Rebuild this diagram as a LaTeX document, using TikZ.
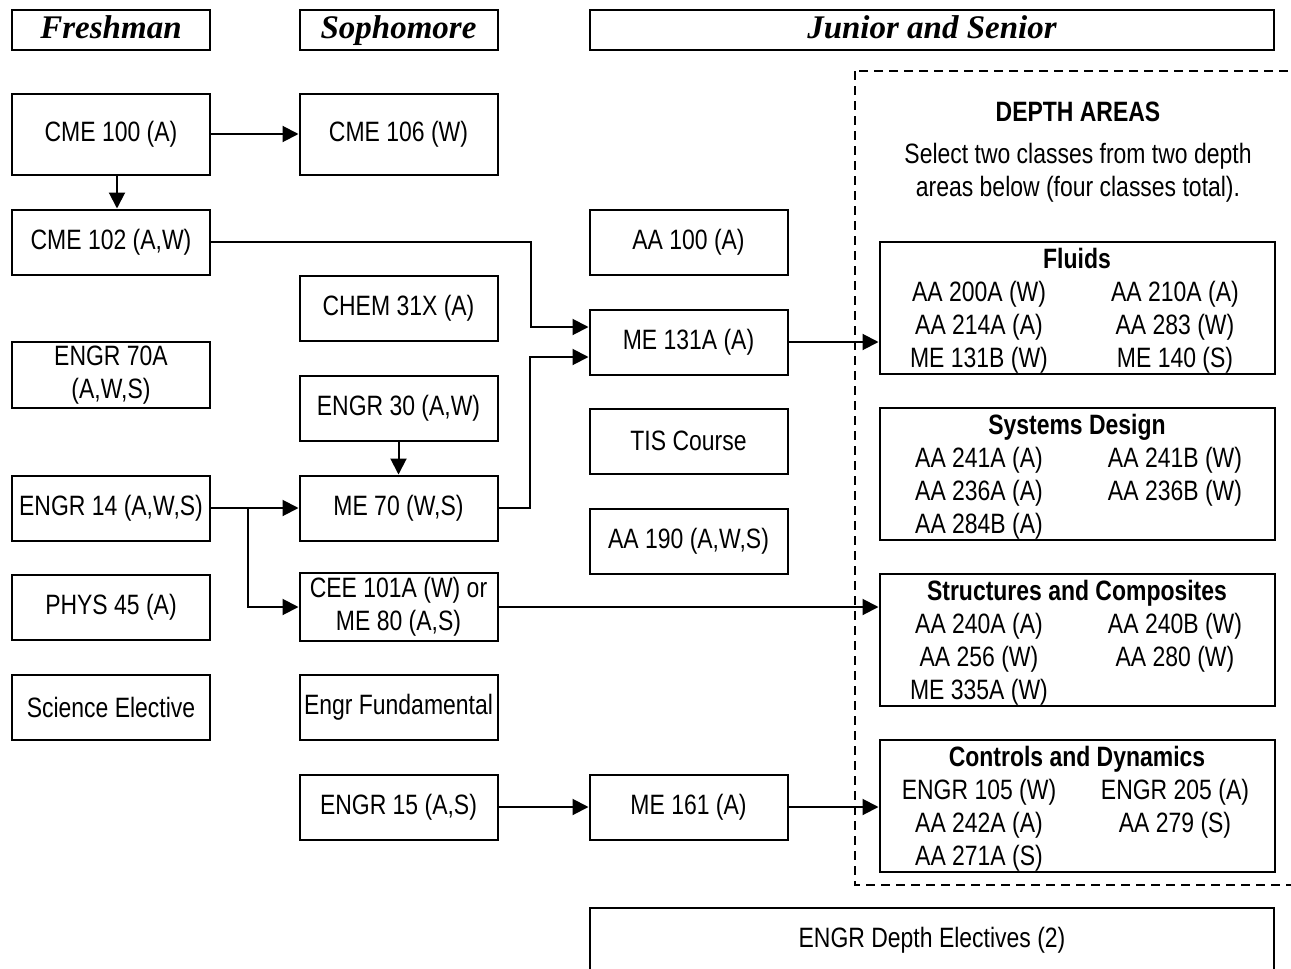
\documentclass[tikz,border=0pt]{standalone}
\usepackage{fontspec}
\setmainfont{Liberation Sans}[FakeStretch=0.82]
\newfontfamily\headfont{Liberation Serif}
\usepackage{array}
\usepackage{tikz}
\usetikzlibrary{arrows.meta}
\tikzstyle{line} = [draw, -{Triangle[length=8pt,width=8pt]}, line width=1pt]
\newcommand{\areatable}[2]{\begin{tabular}{@{}>{\centering}p{98pt}@{}>{\centering\arraybackslash}p{98pt}@{}}
\multicolumn{2}{c}{\textbf{#1}}\\ #2
\end{tabular}}

\begin{document}
\begin{tikzpicture}[x=0.5pt,y=-0.5pt]
\tikzstyle{course} = [draw, line width=1pt, minimum width=99pt, minimum height=32.5pt,
  inner sep=2pt, align=center, font=\fontsize{14pt}{16.5pt}\selectfont]
\tikzstyle{year} = [draw, line width=1pt, minimum width=99pt, minimum height=20pt,
  inner sep=1pt, text height=12.5pt, text depth=3pt,
  font=\headfont\bfseries\itshape\fontsize{16.5pt}{20pt}\selectfont]
\tikzstyle{area} = [draw, line width=1pt, minimum width=197.5pt, minimum height=66pt,
  inner sep=0pt, text height=38.5pt, text depth=27.5pt, font=\fontsize{14pt}{16.5pt}\selectfont]
\useasboundingbox (0,0) rectangle (1291,969);
\node[year] (fresh) at (111,29.5) {Freshman};
\node[year] (soph) at (398.5,29.5) {Sophomore};
\node[year, minimum width=342pt] (junsen) at (932,29.5) {Junior and Senior};

\node[course, minimum height=40.5pt] (cme100) at (111,134) {CME 100 (A)};
\node[course] (cme102) at (111,242) {CME 102 (A,W)};
\node[course] (engr70a) at (111,375) {ENGR 70A\\(A,W,S)};
\node[course] (engr14) at (111,508) {ENGR 14 (A,W,S)};
\node[course] (phys45) at (111,607) {PHYS 45 (A)};
\node[course] (scielec) at (111,707) {Science Elective};

\node[course, minimum height=40.5pt] (cme106) at (398.5,134) {CME 106 (W)};
\node[course] (chem31x) at (398.5,308.5) {CHEM 31X (A)};
\node[course] (engr30) at (398.5,408) {ENGR 30 (A,W)};
\node[course] (me70) at (398.5,508) {ME 70 (W,S)};
\node[course] (cee101a) at (398.5,607) {CEE 101A (W) or\\ME 80 (A,S)};
\node[course] (engrfund) at (398.5,707) {Engr Fundamental};
\node[course] (engr15) at (398.5,807) {ENGR 15 (A,S)};

\node[course] (aa100) at (688.5,242) {AA 100 (A)};
\node[course] (me131a) at (688.5,342) {ME 131A (A)};
\node[course] (tis) at (688.5,441) {TIS Course};
\node[course] (aa190) at (688.5,541) {AA 190 (A,W,S)};
\node[course] (me161) at (688.5,807) {ME 161 (A)};

\draw[dashed, line width=0.75pt, dash pattern=on 4.5pt off 3pt] (855,71) rectangle (1300,885);
\node[align=center, font=\fontsize{14pt}{16.5pt}\selectfont] (depthhead) at (1078,152)
  {\textbf{DEPTH AREAS}\\[4.5pt]Select two classes from two depth\\areas below (four classes total).};
\node[area] (fluids) at (1077,307.5) {\areatable{Fluids}{AA 200A (W) & AA 210A (A)\\
  AA 214A (A) & AA 283 (W)\\ ME 131B (W) & ME 140 (S)}};
\node[area] (sysdes) at (1077,473.5) {\areatable{Systems Design}{AA 241A (A) & AA 241B (W)\\
  AA 236A (A) & AA 236B (W)\\ AA 284B (A) & }};
\node[area] (struct) at (1077,639.5) {\areatable{Structures and Composites}{AA 240A (A) & AA 240B (W)\\
  AA 256 (W) & AA 280 (W)\\ ME 335A (W) & }};
\node[area] (controls) at (1077,805.5) {\areatable{Controls and Dynamics}{ENGR 105 (W) & ENGR 205 (A)\\
  AA 242A (A) & AA 279 (S)\\ AA 271A (S) & }};

\node[course, minimum width=342pt] (depthelec) at (932,940) {ENGR Depth Electives (2)};

\path [line] (cme100) -- (cme106);
\path [line] ([xshift=3pt]cme100.south) -- ([xshift=3pt]cme102.north);
\path [line] (cme102.east) -- ++(320,0) |- ([yshift=7.5pt]me131a.west);
\path [line] (me70.east) -- ++(31,0) |- ([yshift=-7.5pt]me131a.west);
\path [line] (engr30) -- (me70);
\path [line] (engr14) -- (me70);
\path [line] (engr14.east) -- ++(37,0) |- (cee101a.west);
\path [line] (cee101a.east) -- (cee101a.east -| struct.west);
\path [line] (me131a.east) -- (me131a.east -| fluids.west);
\path [line] (engr15) -- (me161);
\path [line] (me161.east) -- (me161.east -| controls.west);
\end{tikzpicture}
\end{document}
